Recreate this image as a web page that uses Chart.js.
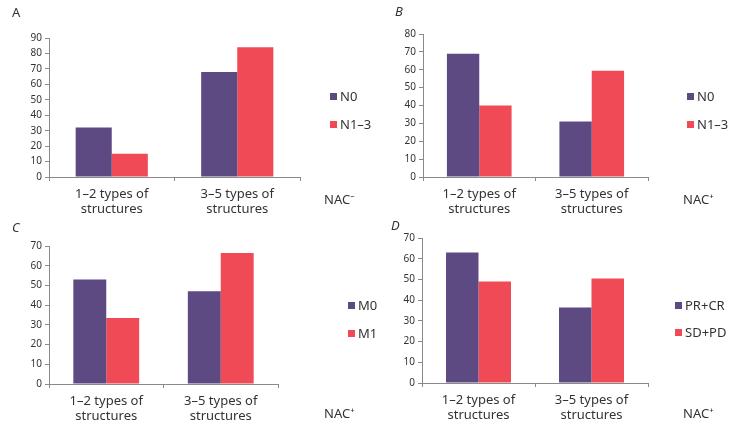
<!DOCTYPE html>
<html>
<head>
<meta charset="utf-8">
<script src="https://cdn.jsdelivr.net/npm/chart.js@4"></script>
<style>
  body { margin: 0; background: #fff; }
  #wrap { position: relative; width: 739px; height: 438px; overflow: hidden; font-family: "Noto Sans", sans-serif; color: #333; }
  canvas { position: absolute; }
  .lbl { position: absolute; font-size: 13px; line-height: 16px; white-space: nowrap; }
  .letter { position: absolute; font-size: 13px; line-height: 16px; }
  .sq { position: absolute; width: 7px; height: 7px; }
</style>
</head>
<body>
<div id="wrap">
  <canvas id="cA" width="320" height="220" style="left:0;top:0"></canvas>
  <canvas id="cB" width="369" height="220" style="left:370px;top:0"></canvas>
  <canvas id="cC" width="370" height="220" style="left:0;top:218px"></canvas>
  <canvas id="cD" width="369" height="220" style="left:370px;top:218px"></canvas>
</div>
<script>
// categories and values
const categories = [['1–2 types of', 'structures'], ['3–5 types of', 'structures']];
const aN0 = [32, 68];
const aN13 = [15, 84];
const bN0 = [69, 31];
const bN13 = [40, 59.5];
const cM0 = [53, 47];
const cM1 = [33.5, 66.5];
const dPRCR = [63, 36.5];
const dSDPD = [49, 50.5];
const legendA = ['N0', 'N1–3'];
const legendB = ['N0', 'N1–3'];
const legendC = ['M0', 'M1'];
const legendD = ['PR+CR', 'SD+PD'];
const yMax = { A: 90, B: 80, C: 70, D: 70 };

const PURPLE = '#5e4a82';
const RED = '#ef4a55';
const AXIS = '#8a8a8a';

function drawPanel(id, s1, s2, names, max, yWidth, xHeight, padTop, padRight) {
  const ctx = document.getElementById(id).getContext('2d');
  new Chart(ctx, {
    type: 'bar',
    data: {
      labels: categories,
      datasets: [
        { label: names[0], data: s1, backgroundColor: PURPLE },
        { label: names[1], data: s2, backgroundColor: RED }
      ]
    },
    options: {
      responsive: false,
      animation: false,
      devicePixelRatio: 1,
      layout: { padding: { top: padTop, right: padRight, left: 0, bottom: 0 } },
      plugins: { legend: { display: false }, tooltip: { enabled: false } },
      datasets: { bar: { categoryPercentage: 0.575, barPercentage: 1 } },
      scales: {
        x: {
          grid: { drawOnChartArea: false, drawTicks: true, tickLength: 4, color: AXIS },
          border: { color: AXIS },
          ticks: { color: '#333', font: { family: 'Noto Sans', size: 13, lineHeight: 1.15 }, padding: 6, maxRotation: 0 },
          afterFit: function(scale) { scale.height = xHeight }
        },
        y: {
          min: 0, max: max,
          grid: { drawOnChartArea: false, drawTicks: true, tickLength: 4, color: AXIS },
          border: { color: AXIS },
          ticks: { stepSize: 10, color: '#333', font: { family: 'Noto Sans', size: 10 }, padding: 3 },
          afterFit: function(scale) { scale.width = yWidth }
        }
      }
    }
  });
}

drawPanel('cA', aN0, aN13, legendA, yMax.A, 49, 43, 38, 20);
drawPanel('cB', bN0, bN13, legendB, yMax.B, 53, 43, 34, 91);
drawPanel('cC', cM0, cM1, legendC, yMax.C, 49, 54, 28, 92);
drawPanel('cD', dPRCR, dSDPD, legendD, yMax.D, 52, 55, 20, 91);

// legends, panel letters and NAC notes as html text
const wrap = document.getElementById('wrap');
function addText(cls, text, x, y, style) {
  const d = document.createElement('div');
  d.className = cls;
  d.textContent = text;
  d.style.left = x + 'px';
  d.style.top = (y - 8) + 'px';
  if (style) d.style.fontStyle = style;
  wrap.appendChild(d);
}
function addSquare(color, x, y) {
  const d = document.createElement('div');
  d.className = 'sq';
  d.style.background = color;
  d.style.left = x + 'px';
  d.style.top = (y - 3) + 'px';
  wrap.appendChild(d);
}
function addLegend(names, x, y1, y2) {
  addSquare(PURPLE, x, y1);
  addText('lbl', names[0], x + 10, y1);
  addSquare(RED, x, y2);
  addText('lbl', names[1], x + 10, y2);
}
addLegend(legendA, 330, 96, 124);
addLegend(legendB, 687, 96, 124);
addLegend(legendC, 348, 305, 333);
addLegend(legendD, 675, 305, 332);

addText('lbl', 'NAC⁻', 324, 199);
addText('lbl', 'NAC⁺', 683, 199);
addText('lbl', 'NAC⁺', 324, 413);
addText('lbl', 'NAC⁺', 683, 413);

addText('letter', 'A', 12, 12);
addText('letter', 'B', 395, 11, 'italic');
addText('letter', 'C', 12, 227, 'italic');
addText('letter', 'D', 391, 225, 'italic');
</script>
</body>
</html>
